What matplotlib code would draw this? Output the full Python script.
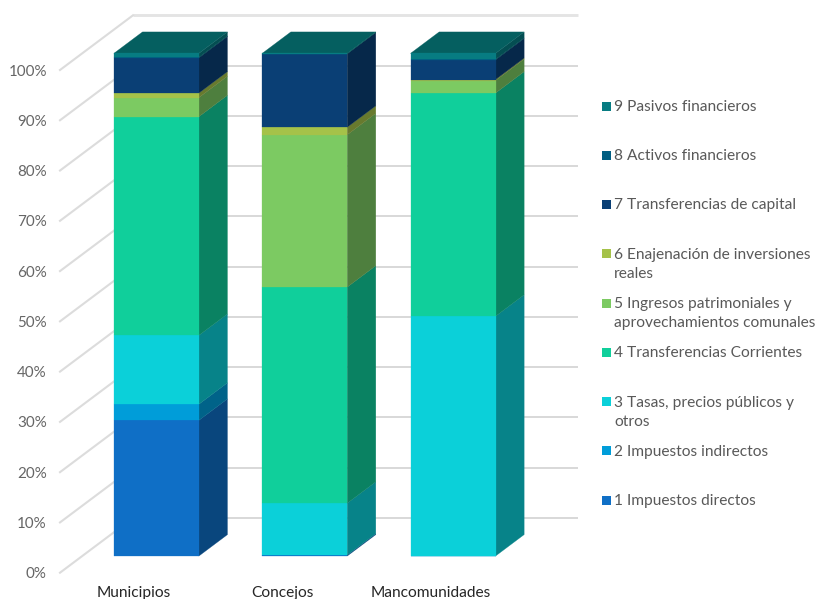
import matplotlib
matplotlib.use("Agg")
import matplotlib.pyplot as plt
import numpy as np
from matplotlib.patches import Rectangle, Polygon
from matplotlib.colors import to_rgb

categories = ["Municipios", "Concejos", "Mancomunidades"]
tick_values = list(range(0, 101, 10))
tick_labels = [f"{v}%" for v in tick_values]

impuestos_directos = [27.0, 0.2, 0.0]
impuestos_indirectos = [3.2, 0.0, 0.0]
tasas = [13.7, 10.3, 47.7]
transf_corrientes = [43.5, 43.0, 44.4]
ingresos_patrimoniales = [3.8, 30.3, 2.5]
enajenacion = [0.9, 1.5, 0.2]
transf_capital = [7.0, 14.6, 3.9]
activos = [0.1, 0.0, 0.1]
pasivos = [0.8, 0.1, 1.2]

series = [impuestos_directos, impuestos_indirectos, tasas, transf_corrientes,
          ingresos_patrimoniales, enajenacion, transf_capital, activos, pasivos]
colors = ["#0F6FC6", "#009DD9", "#0BD0D9", "#10CF9B", "#7CCA62",
          "#A5C249", "#0A3F75", "#005E82", "#077C82"]
legend_labels = ["1 Impuestos directos", "2 Impuestos indirectos",
                 "3 Tasas, precios públicos y\notros", "4 Transferencias Corrientes",
                 "5 Ingresos patrimoniales y\naprovechamientos comunales",
                 "6 Enajenación de inversiones\nreales", "7 Transferencias de capital",
                 "8 Activos financieros", "9 Pasivos financieros"]

W, H = 818, 599
FONT = "Lato"
fig = plt.figure(figsize=(W / 100, H / 100), dpi=100)
PX_X, PX_Y = 445.0, 502.7
ax = fig.add_axes([60 / W, 1 - 572.7 / H, PX_X / W, PX_Y / H])
ax.set_xlim(-0.5, 2.5)
ax.set_ylim(0, 100)
ax.autoscale(False)
for s in ax.spines.values():
    s.set_visible(False)
ax.patch.set_alpha(0)

# one full depth of the 3-D box, in data units
DX = 73 / (PX_X / 3)
DY = 54.7 / (PX_Y / 100)


def shade(c, f):
    return tuple(v * f for v in to_rgb(c))


# walls and floor gridlines
for v in tick_values:
    top = v == 100
    col = "#E4E4E4" if top else "#D6D6D6"
    lw = 2.1 if top else 1.3
    ax.plot([-0.5 + DX, 2.5 + DX], [v + DY, v + DY], color=col, lw=lw, clip_on=False, zorder=1,
            solid_capstyle="butt")
    ax.plot([-0.5, -0.5 + DX], [v, v + DY], color="#DCDCDC", lw=1.5, clip_on=False, zorder=1)

BAR_W = 85 / (PX_X / 3)
D0, D1 = 22.2 / 73, 50.8 / 73
x = np.arange(len(categories))
bottom = np.zeros(len(categories))
x0, y0 = DX * D0, DY * D0
x1, y1 = DX * D1, DY * D1
for vals, col in zip(series, colors):
    vals = np.array(vals)
    ax.bar(x + x0, vals, BAR_W, bottom=bottom + y0, color=col, edgecolor=col, linewidth=0.2,
           clip_on=False, zorder=3)
    for xi, b, v in zip(x, bottom, vals):
        if v <= 0:
            continue
        xr = xi + BAR_W / 2
        pts = [(xr + x0, b + y0), (xr + x0, b + v + y0), (xr + x1, b + v + y1), (xr + x1, b + y1)]
        c = shade(col, 0.63)
        ax.add_patch(Polygon(pts, closed=True, facecolor=c, edgecolor=c, linewidth=0.2,
                             clip_on=False, zorder=2.5))
    bottom = bottom + vals

for xi, total in zip(x, bottom):
    xl, xr = xi - BAR_W / 2, xi + BAR_W / 2
    pts = [(xl + x0, total + y0), (xr + x0, total + y0), (xr + x1, total + y1), (xl + x1, total + y1)]
    ax.add_patch(Polygon(pts, closed=True, facecolor="#055F60", edgecolor="#055F60", linewidth=0.2,
                         clip_on=False, zorder=2.6))

ax.set_xticks(x, categories, fontfamily=FONT, fontsize=11.2, color="#262626")
ax.set_yticks(tick_values, tick_labels, fontfamily=FONT, fontsize=10.9, color="#666666")
ax.tick_params(axis="both", length=0)
ax.tick_params(axis="x", pad=9.5)
ax.tick_params(axis="y", pad=9.5)

# legend
lax = fig.add_axes([0, 0, 1, 1])
lax.set_xlim(0, W)
lax.set_ylim(H, 0)
lax.axis("off")
row0, step = 106, 49.25
n = len(legend_labels)
for i, (lab, col) in enumerate(zip(legend_labels, colors)):
    y = row0 + step * (n - 1 - i)
    lax.add_patch(Rectangle((602, y - 4.5), 9, 9, facecolor=col, edgecolor="none"))
    lax.text(614, y - 6, lab, fontfamily=FONT, fontsize=11.2, color="#595959",
             va="top", ha="left", linespacing=1.48)

fig.savefig("out.png", dpi=100)
